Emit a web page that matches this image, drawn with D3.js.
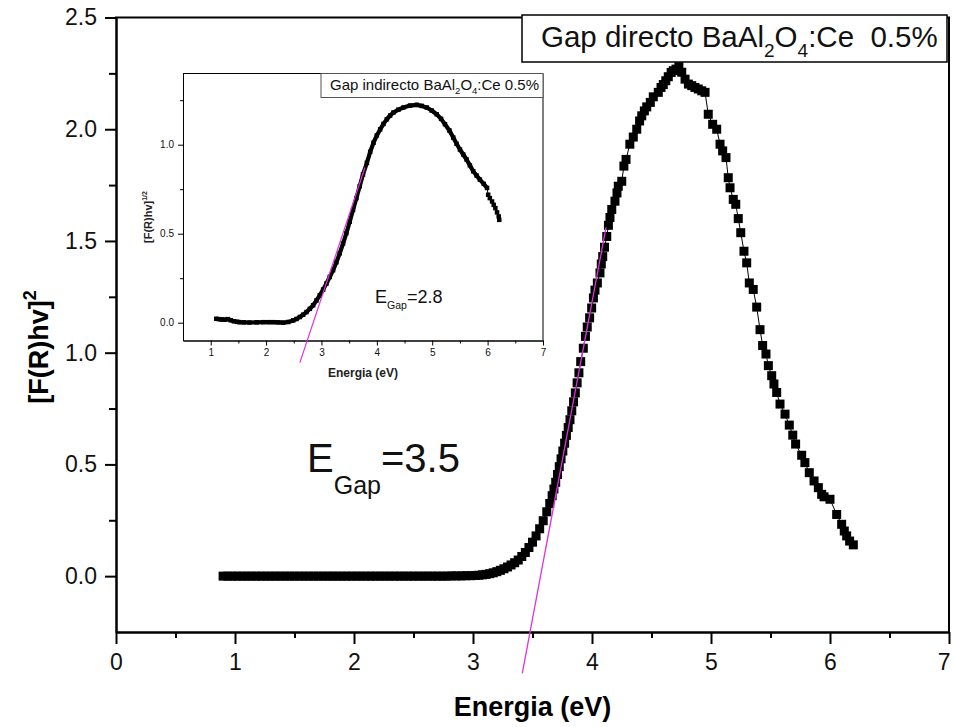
<!DOCTYPE html>
<html><head><meta charset="utf-8">
<script src="https://cdn.jsdelivr.net/npm/d3@7"></script>
<style>
body{margin:0;background:#fff}
svg{display:block}
text{font-family:"Liberation Sans",Arial,Helvetica,sans-serif}
</style>
</head><body>
<svg id="c" width="953" height="727"></svg>
<script>
// ---------- DATA ----------
const mainEnergy = [0.90,0.94,0.98,1.02,1.06,1.10,1.14,1.18,1.22,1.26,1.30,1.34,1.38,1.42,1.46,1.50,1.54,1.58,1.62,1.66,1.70,1.74,1.78,1.82,1.86,1.90,1.94,1.98,2.02,2.06,2.10,2.14,2.18,2.22,2.26,2.30,2.34,2.38,2.42,2.46,2.50,2.54,2.58,2.62,2.66,2.70,2.74,2.78,2.82,2.86,2.90,2.94,2.98,3.02,
  3.05,3.08,3.11,3.14,3.17,3.20,3.23,3.26,3.29,3.32,3.35,3.38,3.41,3.44,3.47,3.50,3.53,3.56,3.59,3.62,3.645,3.665,3.68,3.695,3.71,3.725,3.74,3.755,3.77,3.785,3.80,3.815,3.83,3.845,3.86,3.875,3.89,3.905,3.927,3.945,3.96,3.98,3.997,4.012,4.025,4.045,4.067,4.078,4.09,4.105,4.124,4.138,4.151,4.166,4.193,4.21,4.221,4.25,4.268,4.286,4.318,4.347,4.376,4.40,4.418,4.44,4.46,4.49,4.515,4.557,4.58,4.599,4.62,4.641,4.665,4.683,4.706,4.73,4.754,4.782,4.81,4.838,4.865,4.893,4.922,
  4.95,4.977,5.014,5.048,5.076,5.098,5.126,5.145,5.16,5.187,5.208,5.229,5.25,5.277,5.30,5.322,5.355,5.384,5.412,5.434,5.462,5.482,5.51,5.529,5.552,5.58,5.622,5.658,5.687,5.711,5.762,5.789,5.826,5.866,5.902,5.93,5.95,6.00,6.056,6.098,6.12,6.14,6.165,6.196];
const mainSignal = [0,0,0,0,0,0,0,0,0,0,0,0,0,0,0,0,0,0,0,0,0,0,0,0,0,0,0,0,0,0,0,0,0,0,0,0,0,0,0,0,0,0,0,0,0,0,0,0,0.001,0.001,0.001,0.002,0.002,0.003,
  0.004,0.006,0.008,0.011,0.015,0.020,0.026,0.033,0.041,0.050,0.060,0.072,0.088,0.106,0.128,0.152,0.180,0.212,0.248,0.288,0.325,0.36,0.39,0.42,0.455,0.49,0.525,0.56,0.595,0.63,0.665,0.70,0.74,0.78,0.82,0.865,0.91,0.96,1.02,1.073,1.115,1.156,1.20,1.245,1.28,1.312,1.357,1.397,1.43,1.472,1.52,1.57,1.605,1.641,1.678,1.715,1.745,1.767,1.835,1.865,1.933,1.965,2.0,2.037,2.06,2.082,2.10,2.12,2.145,2.165,2.187,2.20,2.217,2.235,2.254,2.262,2.269,2.28,2.255,2.224,2.202,2.195,2.187,2.18,2.172,2.165,
  2.067,2.022,2.0,1.933,1.903,1.873,1.783,1.738,1.686,1.664,1.60,1.537,1.454,1.402,1.312,1.283,1.204,1.103,1.032,0.994,0.942,0.897,0.86,0.822,0.77,0.725,0.676,0.631,0.591,0.541,0.508,0.463,0.426,0.396,0.366,0.355,0.344,0.276,0.232,0.202,0.18,0.157,0.14,0.125];

const insetEnergy = [1.10,1.15,1.20,1.25,1.31,1.36,1.42,1.48,1.52,1.60,1.70,1.83,1.95,2.05,2.13,2.22,2.31,2.40,2.49,2.55,2.61,2.67,2.73,2.79,2.85,2.91,2.97,3.03,3.09,3.15,3.21,3.27,3.33,3.39,3.45,3.51,3.57,3.63,3.69,3.75,3.82,3.88,3.94,4.00,4.06,4.12,4.18,4.24,4.30,4.39,4.48,4.60,4.72,4.81,4.90,4.99,5.08,5.16,5.23,5.31,5.38,5.44,5.50,5.56,5.62,5.68,5.74,5.80,5.86,5.93,5.99,
  6.01,6.04,6.08,6.11,6.14,6.17,6.20,6.21];
const insetSignal = [0.022,0.020,0.018,0.017,0.020,0.014,0.008,0.005,0.003,0.002,0.001,0.002,0.003,0.003,0.003,0.002,0.000,0.004,0.013,0.021,0.032,0.045,0.060,0.078,0.098,0.125,0.154,0.186,0.220,0.257,0.295,0.340,0.390,0.445,0.503,0.567,0.634,0.700,0.766,0.833,0.898,0.960,1.011,1.052,1.086,1.117,1.143,1.164,1.181,1.197,1.209,1.220,1.224,1.218,1.209,1.192,1.171,1.145,1.115,1.080,1.040,1.005,0.973,0.945,0.917,0.884,0.851,0.827,0.804,0.780,0.757,
  0.719,0.700,0.681,0.662,0.644,0.620,0.597,0.578];

// tangent (Tauc) lines: endpoints
const mainFitX = [3.414, 4.118], mainFitY = [-0.435, 1.561];
const insetFitX = [2.61, 3.785], insetFitY = [-0.224, 0.872];

const mainXTicks = [0,1,2,3,4,5,6,7];
const mainXMinor = [0.5,1.5,2.5,3.5,4.5,5.5,6.5];
const mainYTicks = [0.0,0.5,1.0,1.5,2.0,2.5];
const mainYMinor = [0.25,0.75,1.25,1.75,2.25];
const insetXTicks = [1,2,3,4,5,6,7];
const insetXMinor = [1.5,2.5,3.5,4.5,5.5,6.5];
const insetYTicks = [0.0,0.5,1.0];
const insetYMinor = [0.25,0.75,1.25];

// ---------- DRAW ----------
const svg = d3.select("#c");
svg.append("rect").attr("width",953).attr("height",727).attr("fill","#fff");

const L=116, R=949, T=17.5, B=632;
const x = d3.scaleLinear().domain([0,7]).range([L,R]);
const y = d3.scaleLinear().domain([-0.25,2.5]).range([B,T]);

function styleAxis(g, w, fs){
  g.selectAll(".domain").attr("stroke","#000").attr("stroke-width",w);
  g.selectAll(".tick line").attr("stroke","#000").attr("stroke-width",w);
  g.selectAll(".tick text").attr("font-size",fs).attr("font-family","Liberation Sans, Arial, sans-serif").attr("fill","#111");
}

// main axes
const gxMinor = svg.append("g").attr("transform",`translate(0,${B})`)
  .call(d3.axisBottom(x).tickValues(mainXMinor).tickSize(6).tickSizeOuter(0).tickFormat(""));
styleAxis(gxMinor,2,0);
const gx = svg.append("g").attr("transform",`translate(0,${B})`)
  .call(d3.axisBottom(x).tickValues(mainXTicks).tickSize(12).tickSizeOuter(0).tickPadding(10).tickFormat(d3.format("d")));
styleAxis(gx,2,23);
// keep the last label inside the page
gx.selectAll(".tick text").filter(d=>d===7).attr("text-anchor","end").attr("dx",1);
const gyMinor = svg.append("g").attr("transform",`translate(${L},0)`)
  .call(d3.axisLeft(y).tickValues(mainYMinor).tickSize(7).tickSizeOuter(0).tickFormat(""));
styleAxis(gyMinor,2,0);
const gy = svg.append("g").attr("transform",`translate(${L},0)`)
  .call(d3.axisLeft(y).tickValues(mainYTicks).tickSize(11).tickSizeOuter(0).tickPadding(8).tickFormat(d3.format(".1f")));
styleAxis(gy,2,23);
svg.append("line").attr("x1",L-1).attr("x2",R+1).attr("y1",T).attr("y2",T).attr("stroke","#000").attr("stroke-width",2);
svg.append("line").attr("x1",R).attr("x2",R).attr("y1",T).attr("y2",B).attr("stroke","#000").attr("stroke-width",2);

// axis titles
svg.append("text").attr("x",(L+R)/2).attr("y",716).attr("text-anchor","middle")
  .attr("font-size",27).attr("font-weight","bold").text("Energia (eV)");
const yt = svg.append("text").attr("transform","translate(48,347) rotate(-90)").attr("text-anchor","middle")
  .attr("font-size",27).attr("font-weight","bold");
yt.append("tspan").text("[F(R)hv]");
yt.append("tspan").attr("font-size",18).attr("dy",-12).text("2");

// main data
const mainPts = mainEnergy.map((e,i)=>[e,mainSignal[i]]);
svg.append("path").datum(mainPts).attr("fill","none").attr("stroke","#000").attr("stroke-width",1)
  .attr("d",d3.line().x(d=>x(d[0])).y(d=>y(d[1])));
const S=9;
svg.append("g").selectAll("rect").data(mainPts).join("rect")
  .attr("x",d=>x(d[0])-S/2).attr("y",d=>y(d[1])-S/2).attr("width",S).attr("height",S).attr("fill","#000");

// main fit line
svg.append("line").attr("x1",x(mainFitX[0])).attr("y1",y(mainFitY[0])).attr("x2",x(mainFitX[1])).attr("y2",y(mainFitY[1]))
  .attr("stroke","#e030e0").attr("stroke-width",1.3);

// EGap = 3.5
const eg = svg.append("text").attr("x",307).attr("y",472).attr("font-size",40).attr("fill","#111");
eg.append("tspan").text("E");
eg.append("tspan").attr("font-size",25).attr("dy",22).text("Gap");
eg.append("tspan").attr("font-size",40).attr("dy",-22).text("=3.5");

// main legend box
svg.append("rect").attr("x",522).attr("y",15).attr("width",425).attr("height",47)
  .attr("fill","#fff").attr("stroke","#000").attr("stroke-width",1.5);
const lg = svg.append("text").attr("x",541).attr("y",47).attr("font-size",29.5).attr("fill","#111").style("white-space","pre");
lg.append("tspan").text("Gap directo BaAl");
lg.append("tspan").attr("font-size",19).attr("dy",10).text("2");
lg.append("tspan").attr("font-size",29.5).attr("dy",-10).text("O");
lg.append("tspan").attr("font-size",19).attr("dy",10).text("4");
lg.append("tspan").attr("font-size",29.5).attr("dy",-10).text(":Ce  0.5%");

// ---------- INSET ----------
const iL=183, iR=543, iT=73.5, iB=340.5;
const ix = d3.scaleLinear().domain([0.5,7]).range([iL,iR]);
const iy = d3.scaleLinear().domain([-0.1,1.4]).range([iB,iT]);
const inset = svg.append("g");
inset.append("rect").attr("x",iL).attr("y",iT).attr("width",iR-iL).attr("height",iB-iT).attr("fill","#fff");

const igxm = inset.append("g").attr("transform",`translate(0,${iB})`)
  .call(d3.axisBottom(ix).tickValues(insetXMinor).tickSize(3).tickSizeOuter(0).tickFormat(""));
styleAxis(igxm,1,0);
const igx = inset.append("g").attr("transform",`translate(0,${iB})`)
  .call(d3.axisBottom(ix).tickValues(insetXTicks).tickSize(5).tickSizeOuter(0).tickPadding(3).tickFormat(d3.format("d")));
styleAxis(igx,1,10);
const igym = inset.append("g").attr("transform",`translate(${iL},0)`)
  .call(d3.axisLeft(iy).tickValues(insetYMinor).tickSize(3).tickSizeOuter(0).tickFormat(""));
styleAxis(igym,1,0);
const igy = inset.append("g").attr("transform",`translate(${iL},0)`)
  .call(d3.axisLeft(iy).tickValues(insetYTicks).tickSize(5).tickSizeOuter(0).tickPadding(4).tickFormat(d3.format(".1f")));
styleAxis(igy,1,10);
inset.append("line").attr("x1",iL).attr("x2",iR).attr("y1",iT).attr("y2",iT).attr("stroke","#000").attr("stroke-width",1);
inset.append("line").attr("x1",iR).attr("x2",iR).attr("y1",iT).attr("y2",iB).attr("stroke","#000").attr("stroke-width",1);

inset.append("text").attr("x",(iL+iR)/2).attr("y",377).attr("text-anchor","middle")
  .attr("font-size",12).attr("font-weight","bold").attr("fill","#222").text("Energia (eV)");
const iyt = inset.append("text").attr("transform","translate(152,217) rotate(-90)").attr("text-anchor","middle")
  .attr("font-size",11).attr("font-weight","bold").attr("fill","#222");
iyt.append("tspan").text("[F(R)hv]");
iyt.append("tspan").attr("font-size",7).attr("dy",-5).text("1/2");

const insetPts = insetEnergy.map((e,i)=>[e,insetSignal[i]]);
const il = d3.line().x(d=>ix(d[0])).y(d=>iy(d[1]));
inset.append("path").datum(insetPts.filter(d=>d[0]<=5.99)).attr("fill","none").attr("stroke","#000")
  .attr("stroke-width",4.2).attr("stroke-linejoin","round").attr("d",il);
inset.append("path").datum(insetPts.filter(d=>d[0]>=5.99)).attr("fill","none").attr("stroke","#000")
  .attr("stroke-width",1).attr("d",il);
const iS=4.5;
inset.append("g").selectAll("rect").data(insetPts).join("rect")
  .attr("x",d=>ix(d[0])-iS/2).attr("y",d=>iy(d[1])-iS/2).attr("width",iS).attr("height",iS).attr("fill","#000");

inset.append("line").attr("x1",ix(insetFitX[0])).attr("y1",iy(insetFitY[0])).attr("x2",ix(insetFitX[1])).attr("y2",iy(insetFitY[1]))
  .attr("stroke","#e030e0").attr("stroke-width",1.2);

const ieg = inset.append("text").attr("x",375).attr("y",303).attr("font-size",18).attr("fill","#111");
ieg.append("tspan").text("E");
ieg.append("tspan").attr("font-size",10.5).attr("dy",6).text("Gap");
ieg.append("tspan").attr("font-size",18).attr("dy",-6).text("=2.8");

inset.append("rect").attr("x",321).attr("y",iT).attr("width",iR-321).attr("height",24)
  .attr("fill","#fff").attr("stroke","#555").attr("stroke-width",1);
const ilg = inset.append("text").attr("x",330).attr("y",89.5).attr("font-size",15).attr("fill","#111");
ilg.append("tspan").text("Gap indirecto BaAl");
ilg.append("tspan").attr("font-size",9.5).attr("dy",4).text("2");
ilg.append("tspan").attr("font-size",15).attr("dy",-4).text("O");
ilg.append("tspan").attr("font-size",9.5).attr("dy",4).text("4");
ilg.append("tspan").attr("font-size",15).attr("dy",-4).text(":Ce 0.5%");
</script>
</body></html>
